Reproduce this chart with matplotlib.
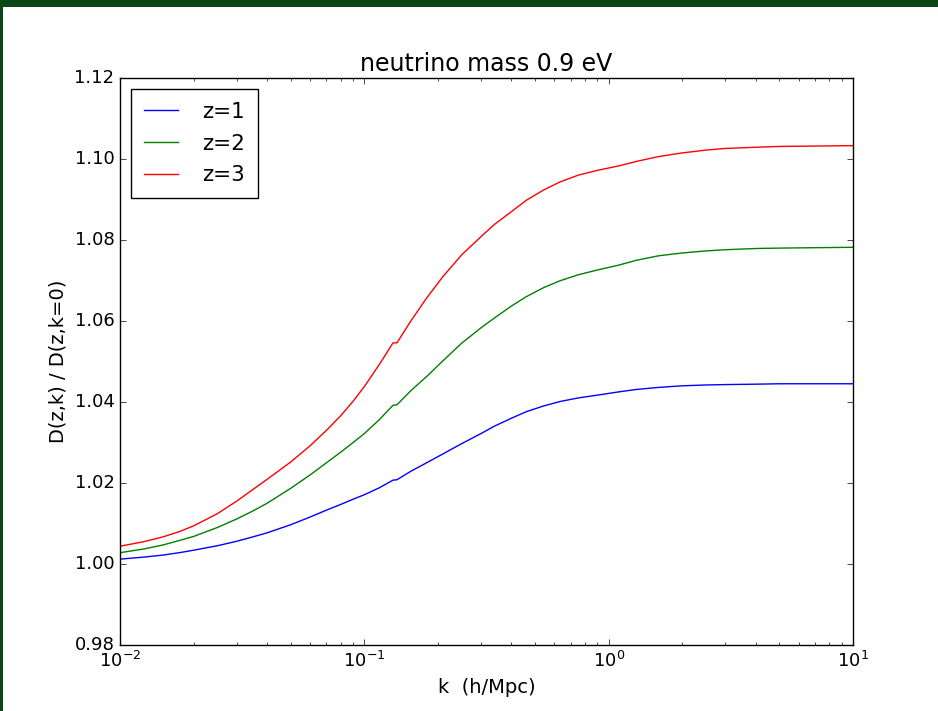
import matplotlib
matplotlib.use("Agg")
import matplotlib.pyplot as plt
from matplotlib.patches import Rectangle
from matplotlib.ticker import FormatStrFormatter

# wavenumber k (h/Mpc) and growth ratio D(z,k)/D(z,k=0)
k = [0.01, 0.0125, 0.015, 0.0175, 0.02, 0.025, 0.03, 0.035, 0.04, 0.05,
     0.06, 0.07, 0.08, 0.09, 0.1, 0.115, 0.131, 0.136, 0.155, 0.18,
     0.21, 0.25, 0.3, 0.34, 0.4, 0.46, 0.54, 0.63, 0.75, 0.9,
     1.1, 1.3, 1.6, 2.0, 2.5, 3.0, 4.0, 5.0, 7.0, 10.0]

d_z1 = [1.0012, 1.0017, 1.0022, 1.0028, 1.0034, 1.0045, 1.0056, 1.0067, 1.0077, 1.0097,
        1.0116, 1.0133, 1.0147, 1.0160, 1.0171, 1.0188, 1.0207, 1.0208, 1.0229, 1.0250,
        1.0272, 1.0297, 1.0322, 1.0340, 1.0360, 1.0376, 1.0390, 1.0401, 1.0410, 1.0417,
        1.0425, 1.0431, 1.0436, 1.0440, 1.0442, 1.0443, 1.0444, 1.0445, 1.0445, 1.0445]
d_z2 = [1.0028, 1.0037, 1.0047, 1.0058, 1.0068, 1.0090, 1.0111, 1.0131, 1.0150, 1.0187,
        1.0220, 1.0250, 1.0276, 1.0300, 1.0322, 1.0356, 1.0392, 1.0393, 1.0428, 1.0463,
        1.0502, 1.0545, 1.0583, 1.0607, 1.0637, 1.0660, 1.0682, 1.0699, 1.0714, 1.0726,
        1.0738, 1.0750, 1.0761, 1.0768, 1.0773, 1.0776, 1.0779, 1.0780, 1.0781, 1.0782]
d_z3 = [1.0044, 1.0055, 1.0067, 1.0080, 1.0094, 1.0124, 1.0155, 1.0184, 1.0209, 1.0252,
        1.0292, 1.0330, 1.0366, 1.0402, 1.0438, 1.0492, 1.0546, 1.0546, 1.0600, 1.0657,
        1.0710, 1.0763, 1.0808, 1.0838, 1.0870, 1.0898, 1.0923, 1.0943, 1.0960, 1.0972,
        1.0983, 1.0994, 1.1006, 1.1015, 1.1022, 1.1026, 1.1029, 1.1031, 1.1032, 1.1033]

labels = ["z=1", "z=2", "z=3"]
colors = ["b", "g", "r"]

plt.style.use("classic")
plt.rcParams["mathtext.fontset"] = "dejavusans"
plt.rcParams["font.family"] = "DejaVu Sans"

fig = plt.figure(figsize=(9.38, 7.11), dpi=100, facecolor="white")
# slide background peeking in at the top and left edges
fig.patches.append(Rectangle((0, 1 - 7 / 711), 1, 7 / 711, transform=fig.transFigure,
                             facecolor="#0b4614", edgecolor="none", zorder=-1))
fig.patches.append(Rectangle((0, 0), 3 / 938, 1, transform=fig.transFigure,
                             facecolor="#0b4614", edgecolor="none", zorder=-1))

ax = fig.add_axes([120 / 938, 1 - 645 / 711, 733 / 938, 567 / 711])

for d, lab, c in zip([d_z1, d_z2, d_z3], labels, colors):
    ax.plot(k, d, color=c, lw=1.0, label=lab)

ax.set_xscale("log")
ax.set_xlim(0.01, 10)
ax.set_ylim(0.98, 1.12)
ax.set_yticks([0.98, 1.00, 1.02, 1.04, 1.06, 1.08, 1.10, 1.12])
ax.yaxis.set_major_formatter(FormatStrFormatter("%.2f"))

ax.set_title("neutrino mass 0.9 eV", fontsize=17)
ax.set_xlabel("k  (h/Mpc)", fontsize=14)
ax.set_ylabel("D(z,k) / D(z,k=0)", fontsize=14)
ax.tick_params(axis="both", which="major", labelsize=13)

ax.legend(loc="upper left", fontsize=15.5, numpoints=1, labelspacing=0.55,
          borderpad=0.6, handlelength=1.6, handletextpad=1.1)

fig.savefig("out.png", dpi=100, facecolor=fig.get_facecolor())
